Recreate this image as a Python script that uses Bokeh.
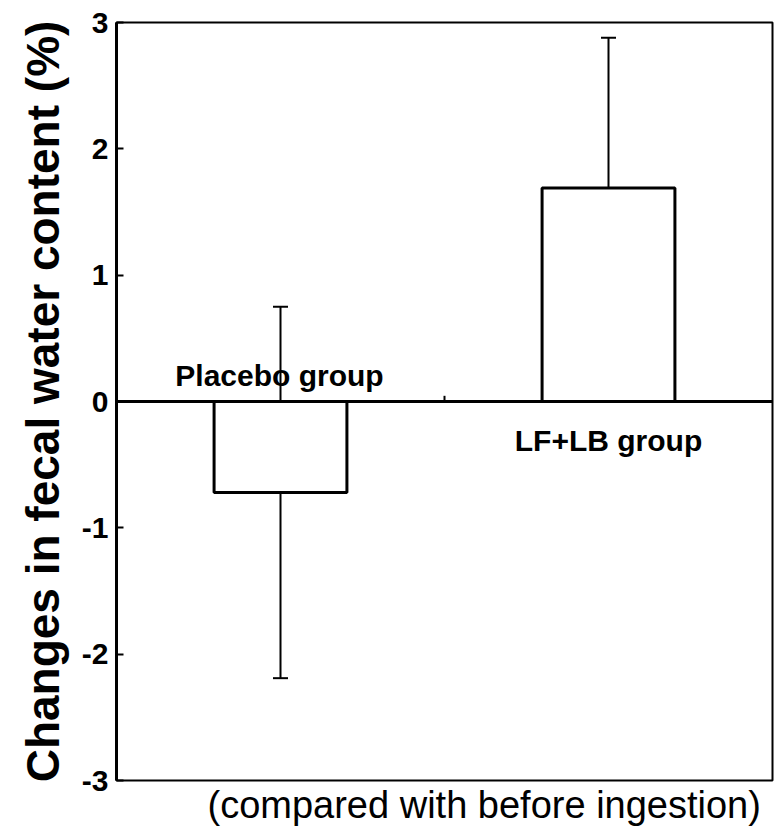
import numpy as np
from bokeh.plotting import figure
from bokeh.models import Range1d, FixedTicker, Span, Whisker, ColumnDataSource, Title, TeeHead
from bokeh.core.properties import value
from bokeh.embed import file_html
from bokeh.resources import INLINE

# ---- data ----
groups = ["Placebo group", "LF+LB group"]
means = [-0.72, 1.69]
sds = [1.47, 1.19]
y_ticks = [-3, -2, -1, 0, 1, 2, 3]
tick_labels = ["-3", "-2", "-1", "0", "1", "2", "3"]
y_title = "Changes in fecal water content (%)"
x_note = "(compared with before ingestion)"

# ---- layout constants ----
FONT = "Liberation Sans"
n = len(groups)
xc = np.arange(n) + 0.5
label_y = [0.206, -0.31]
label_dx = [-1, 0]

p = figure(width=780, height=837, output_backend="svg", toolbar_location=None,
           x_range=Range1d(0, n), y_range=Range1d(-3, 3),
           min_border_left=116, min_border_right=8, min_border_top=22, min_border_bottom=57)
p.xgrid.visible = False
p.ygrid.visible = False
p.xaxis.visible = False
p.outline_line_color = "black"
p.outline_line_width = 2
p.background_fill_color = "white"
p.border_fill_color = "white"

ya = p.yaxis[0]
ya.ticker = FixedTicker(ticks=y_ticks)
ya.major_label_overrides = {t: l for t, l in zip(y_ticks, tick_labels)}
ya.minor_tick_line_color = None
ya.major_tick_in = 7
ya.major_tick_out = 0
ya.major_tick_line_width = 2
ya.axis_line_width = 3
ya.axis_line_color = "black"
ya.major_tick_line_color = "black"
ya.major_label_text_font = FONT
ya.major_label_text_font_style = "bold"
ya.major_label_text_font_size = "30px"
ya.major_label_text_color = "black"
ya.major_label_text_baseline = "hanging"
ya.major_label_standoff = 8
ya.axis_label = y_title
ya.axis_label_text_font = FONT
ya.axis_label_text_font_style = "bold"
ya.axis_label_text_font_size = "46px"
ya.axis_label_text_color = "black"
ya.axis_label_standoff = 10

src = ColumnDataSource(dict(x=xc, top=means,
                            upper=np.array(means) + np.array(sds),
                            lower=np.array(means) - np.array(sds),
                            name=groups, ly=label_y, dx=label_dx))

p.vbar(x="x", top="top", bottom=0, width=0.405, source=src,
       fill_color="white", line_color="black", line_width=3)

# zero line and the small tick between groups
p.add_layout(Span(location=0, dimension="width", line_color="black", line_width=3))
bx = np.arange(1, n)
p.segment(x0=bx, y0=np.zeros(len(bx)), x1=bx, y1=np.full(len(bx), 0.045),
          line_color="black", line_width=2)

w = Whisker(base="x", upper="upper", lower="lower", source=src, dimension="height",
            line_color="black", line_width=2,
            upper_head=TeeHead(size=15, line_width=2, line_color="black"),
            lower_head=TeeHead(size=15, line_width=2, line_color="black"))
p.add_layout(w)

p.text(x="x", y="ly", text="name", source=src, x_offset="dx",
       text_font=value(FONT), text_font_style="bold", text_font_size="30px",
       text_align="center", text_baseline="alphabetic", text_color="black")

note = Title(text=x_note, align="left", offset=91, standoff=2,
             text_font=FONT, text_font_style="normal", text_font_size="38px",
             text_color="black")
p.add_layout(note, "below")

open("out.html", "w").write(file_html(p, INLINE))
